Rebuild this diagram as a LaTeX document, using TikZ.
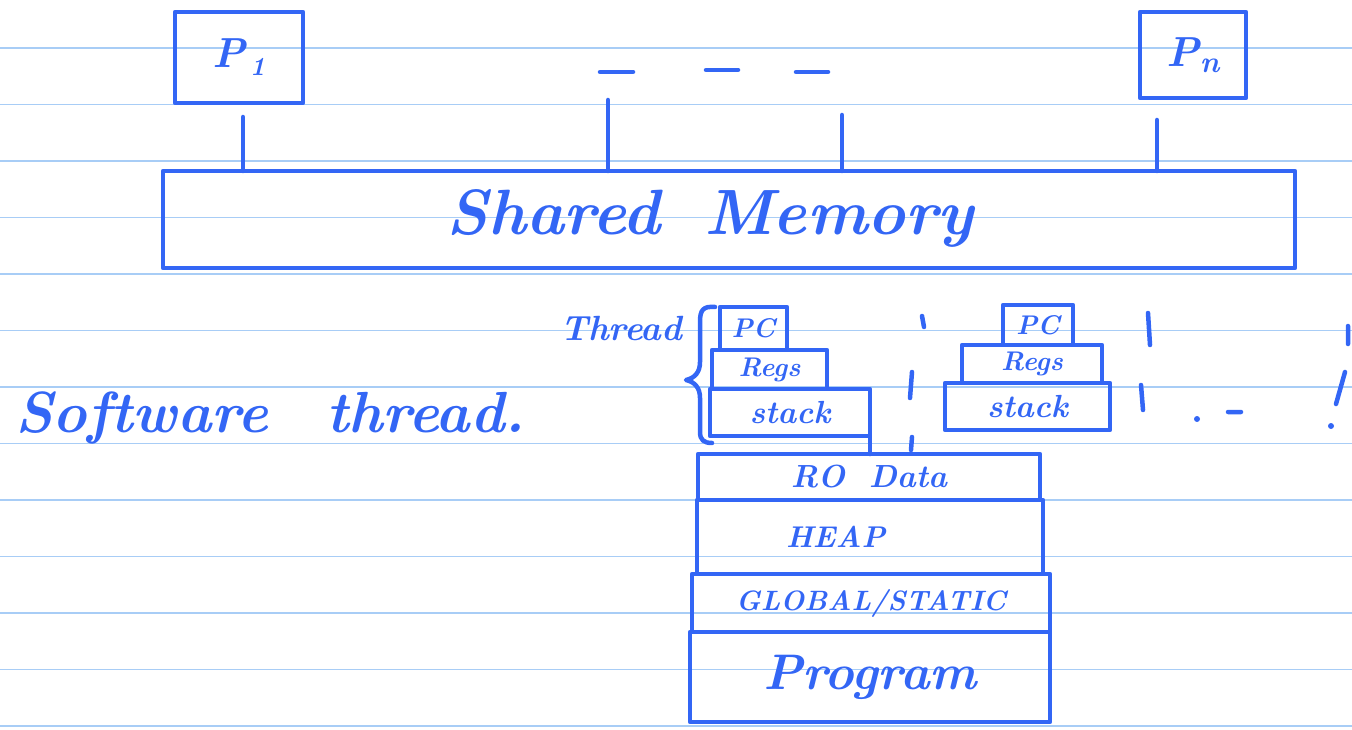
\documentclass[tikz,border=0pt]{standalone}
\usepackage{fontspec}
\usetikzlibrary{calc}
\definecolor{ink}{HTML}{3366F5}
\definecolor{ruling}{HTML}{A8CDF6}
\begin{document}
\begin{tikzpicture}[x=1pt,y=-1pt,
  pen/.style={draw=ink,line width=4.5pt,line cap=round,line join=round},
  box/.style={pen,rectangle,inner sep=0pt,outer sep=0pt,text=ink},
  hand/.style={text=ink,inner sep=0pt},
  fs/.style={font=\fontsize{#1}{#1}\selectfont\bfseries\itshape}
]
\useasboundingbox (0,0) rectangle (1352,730);
% ruled paper
\foreach \i in {0,...,12}
  \draw[ruling,line width=1.8pt] (0,48+56.5*\i) -- (1352,48+56.5*\i);

% processors
\node[box,minimum width=128pt,minimum height=91pt,fs=42] (P1) at (239,57.5)
  {P\kern4pt\raisebox{-8pt}{\fontsize{26}{26}\selectfont 1}};
\node[box,minimum width=106pt,minimum height=86pt,fs=42] (Pn) at (1193,55)
  {P\raisebox{-6pt}{\fontsize{30}{30}\selectfont n}};
\coordinate (dA) at (600,72); \coordinate (dB) at (633,72);
\coordinate (dC) at (706,70); \coordinate (dD) at (738,70);
\coordinate (dE) at (796,72); \coordinate (dF) at (828,72);
\draw[pen] (dA) -- (dB) (dC) -- (dD) (dE) -- (dF);

% shared memory
\node[box,minimum width=1132pt,minimum height=97pt] (mem) at (729,219.5) {};
\node[hand,fs=64] (memlbl) at (710,218) {Shared\hspace{44pt}Memory};

% processor links
\coordinate (t1) at ($(P1.south)+(4,14)$);
\coordinate (t2) at (608,100);
\coordinate (t3) at (842,115);
\coordinate (t4) at ($(Pn.south)+(-36,22)$);
\draw[pen] (t1) -- (t1 |- mem.north);
\draw[pen] (t2) -- (t2 |- mem.north);
\draw[pen] (t3) -- (t3 |- mem.north);
\draw[pen] (t4) -- (t4 |- mem.north);

% labels
\node[hand,fs=58,anchor=base west] (sw) at (15,432) {Software\hspace{58pt}thread.};
\node[hand,fs=35,anchor=base west] (thr) at (560,340) {Thread};

% brace
\draw[pen] (715,307) .. controls (703,306) and (700,310) .. (700,322)
  -- (700,362) .. controls (700,372) and (695,378) .. (686,380)
  .. controls (695,382) and (700,388) .. (700,398)
  -- (700,432) .. controls (700,440) and (704,443) .. (712,443);

% thread 1
\node[box,minimum width=67pt,minimum height=43pt,fs=27] (pc1) at (753.5,328.5) {PC};
\node[box,minimum width=115pt,minimum height=39pt,fs=27] (regs1) at (769.5,369.5) {Regs};
\node[box,minimum width=160pt,minimum height=47pt,fs=32] (stack1) at (790,412.5) {stack};

% thread 2
\node[box,minimum width=70pt,minimum height=40pt,fs=27] (pc2) at (1038,325) {PC};
\node[box,minimum width=140pt,minimum height=38pt,fs=27] (regs2) at (1032,364) {Regs};
\node[box,minimum width=165pt,minimum height=47pt,fs=32] (stack2) at (1027.5,406.5) {stack};

% separators
\coordinate (s1) at (922,316); \coordinate (s2) at (924,327);
\coordinate (s3) at (912,372); \coordinate (s4) at (910,398);
\coordinate (s5) at (912,437); \coordinate (s6) at (911,450);
\coordinate (s7) at (1148,313); \coordinate (s8) at (1150,345);
\coordinate (s9) at (1141,385); \coordinate (s10) at (1143,410);
\coordinate (s11) at (1348,326); \coordinate (s12) at (1348,344);
\draw[pen] (s1) -- (s2) (s3) -- (s4) (s5) -- (s6) (s7) -- (s8) (s9) -- (s10) (s11) -- (s12);
% trailing ". - !"
\coordinate (e1) at (1197,419); \coordinate (e2) at (1228,412); \coordinate (e3) at (1241,412);
\coordinate (e4) at (1345,372); \coordinate (e5) at (1336,404); \coordinate (e6) at (1331,426);
\fill[ink] (e1) circle (3pt) (e6) circle (3pt);
\draw[pen] (e2) -- (e3) (e4) -- (e5);

% process image
\node[box,minimum width=342pt,minimum height=46pt,fs=32] (ro) at (869,477) {RO\hspace{24pt}Data};
\node[box,minimum width=346pt,minimum height=74pt,fs=30,text width=300pt] (heap) at (870,537) {\hspace{66pt}HEAP};
\node[box,minimum width=358pt,minimum height=58pt,fs=28] (glob) at (871,603) {GLOBAL/STATIC};
\node[box,minimum width=360pt,minimum height=90pt,fs=50] (prog) at (870,677) {Program};

\draw[pen] (stack1.south east) -- (stack1.south east |- ro.north);
\end{tikzpicture}
\end{document}
